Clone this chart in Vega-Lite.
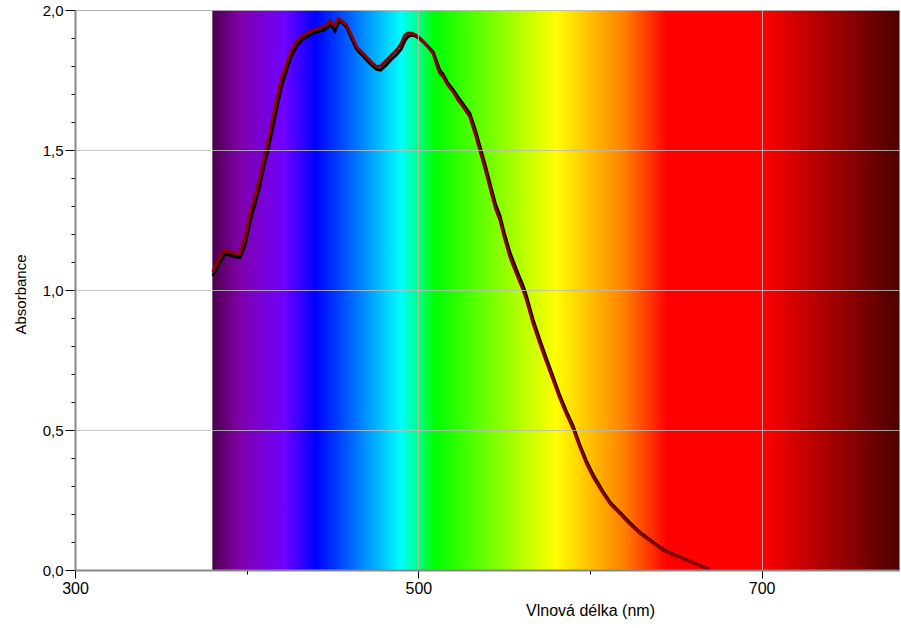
{
  "$schema": "https://vega.github.io/schema/vega-lite/v6.json",
  "width": 824,
  "height": 560,
  "autosize": {"type": "none"},
  "padding": {"left": 75, "top": 10, "right": 2, "bottom": 58},
  "background": "white",
  "config": {
    "view": {"stroke": "#888888", "strokeWidth": 1},
    "font": "Liberation Sans"
  },
  "datasets": {
    "band": [{"name": "viditelné spektrum", "from": 380, "to": 780}],
    "spectra": [
      {"serie": "Měření 1", "nm": 380.3, "abs": 1.050},
      {"serie": "Měření 1", "nm": 383, "abs": 1.085},
      {"serie": "Měření 1", "nm": 387.3, "abs": 1.128},
      {"serie": "Měření 1", "nm": 390.2, "abs": 1.125},
      {"serie": "Měření 1", "nm": 394, "abs": 1.118},
      {"serie": "Měření 1", "nm": 396, "abs": 1.115},
      {"serie": "Měření 1", "nm": 399, "abs": 1.16},
      {"serie": "Měření 1", "nm": 401.9, "abs": 1.245},
      {"serie": "Měření 1", "nm": 405, "abs": 1.31},
      {"serie": "Měření 1", "nm": 407.7, "abs": 1.375},
      {"serie": "Měření 1", "nm": 410, "abs": 1.44},
      {"serie": "Měření 1", "nm": 412.5, "abs": 1.505},
      {"serie": "Měření 1", "nm": 415, "abs": 1.575},
      {"serie": "Měření 1", "nm": 417.4, "abs": 1.645},
      {"serie": "Měření 1", "nm": 420, "abs": 1.72},
      {"serie": "Měření 1", "nm": 423.2, "abs": 1.785},
      {"serie": "Měření 1", "nm": 426, "abs": 1.835},
      {"serie": "Měření 1", "nm": 429, "abs": 1.87},
      {"serie": "Měření 1", "nm": 432, "abs": 1.893},
      {"serie": "Měření 1", "nm": 436.8, "abs": 1.912},
      {"serie": "Měření 1", "nm": 440, "abs": 1.92},
      {"serie": "Měření 1", "nm": 444.6, "abs": 1.928},
      {"serie": "Měření 1", "nm": 446.5, "abs": 1.935},
      {"serie": "Měření 1", "nm": 448.5, "abs": 1.945},
      {"serie": "Měření 1", "nm": 450, "abs": 1.94},
      {"serie": "Měření 1", "nm": 451.4, "abs": 1.925},
      {"serie": "Měření 1", "nm": 453.3, "abs": 1.955},
      {"serie": "Měření 1", "nm": 455.5, "abs": 1.955},
      {"serie": "Měření 1", "nm": 458.2, "abs": 1.94},
      {"serie": "Měření 1", "nm": 461, "abs": 1.90},
      {"serie": "Měření 1", "nm": 464, "abs": 1.86},
      {"serie": "Měření 1", "nm": 467, "abs": 1.84},
      {"serie": "Měření 1", "nm": 469.8, "abs": 1.822},
      {"serie": "Měření 1", "nm": 472.5, "abs": 1.805},
      {"serie": "Měření 1", "nm": 475.7, "abs": 1.788},
      {"serie": "Měření 1", "nm": 478, "abs": 1.785},
      {"serie": "Měření 1", "nm": 481.5, "abs": 1.805},
      {"serie": "Měření 1", "nm": 484.5, "abs": 1.825},
      {"serie": "Měření 1", "nm": 487.3, "abs": 1.84},
      {"serie": "Měření 1", "nm": 490, "abs": 1.86},
      {"serie": "Měření 1", "nm": 492.1, "abs": 1.89},
      {"serie": "Měření 1", "nm": 494, "abs": 1.905},
      {"serie": "Měření 1", "nm": 496, "abs": 1.91},
      {"serie": "Měření 1", "nm": 498, "abs": 1.908},
      {"serie": "Měření 1", "nm": 500.9, "abs": 1.897},
      {"serie": "Měření 1", "nm": 503, "abs": 1.885},
      {"serie": "Měření 1", "nm": 506, "abs": 1.868},
      {"serie": "Měření 1", "nm": 508.6, "abs": 1.85},
      {"serie": "Měření 1", "nm": 511, "abs": 1.81},
      {"serie": "Měření 1", "nm": 512.5, "abs": 1.785},
      {"serie": "Měření 1", "nm": 514.4, "abs": 1.77},
      {"serie": "Měření 1", "nm": 517, "abs": 1.74},
      {"serie": "Měření 1", "nm": 520.3, "abs": 1.715},
      {"serie": "Měření 1", "nm": 523, "abs": 1.69},
      {"serie": "Měření 1", "nm": 526, "abs": 1.665},
      {"serie": "Měření 1", "nm": 530, "abs": 1.63},
      {"serie": "Měření 1", "nm": 533, "abs": 1.575},
      {"serie": "Měření 1", "nm": 535.8, "abs": 1.515},
      {"serie": "Měření 1", "nm": 539, "abs": 1.445},
      {"serie": "Měření 1", "nm": 542.6, "abs": 1.36},
      {"serie": "Měření 1", "nm": 545, "abs": 1.305},
      {"serie": "Měření 1", "nm": 547.5, "abs": 1.265},
      {"serie": "Měření 1", "nm": 550, "abs": 1.205},
      {"serie": "Měření 1", "nm": 553.3, "abs": 1.135},
      {"serie": "Měření 1", "nm": 557, "abs": 1.075},
      {"serie": "Měření 1", "nm": 561, "abs": 1.015},
      {"serie": "Měření 1", "nm": 563, "abs": 0.978},
      {"serie": "Měření 1", "nm": 566.8, "abs": 0.895},
      {"serie": "Měření 1", "nm": 570.7, "abs": 0.823},
      {"serie": "Měření 1", "nm": 574.5, "abs": 0.757},
      {"serie": "Měření 1", "nm": 578.5, "abs": 0.69},
      {"serie": "Měření 1", "nm": 582, "abs": 0.63},
      {"serie": "Měření 1", "nm": 586, "abs": 0.57},
      {"serie": "Měření 1", "nm": 590.1, "abs": 0.515},
      {"serie": "Měření 1", "nm": 594, "abs": 0.448},
      {"serie": "Měření 1", "nm": 597.9, "abs": 0.39},
      {"serie": "Měření 1", "nm": 602, "abs": 0.338},
      {"serie": "Měření 1", "nm": 607.6, "abs": 0.28},
      {"serie": "Měření 1", "nm": 612, "abs": 0.24},
      {"serie": "Měření 1", "nm": 617.3, "abs": 0.207},
      {"serie": "Měření 1", "nm": 623, "abs": 0.17},
      {"serie": "Měření 1", "nm": 629, "abs": 0.135},
      {"serie": "Měření 1", "nm": 636, "abs": 0.103},
      {"serie": "Měření 1", "nm": 642.5, "abs": 0.074},
      {"serie": "Měření 1", "nm": 649, "abs": 0.054},
      {"serie": "Měření 1", "nm": 656.1, "abs": 0.037},
      {"serie": "Měření 1", "nm": 662, "abs": 0.021},
      {"serie": "Měření 1", "nm": 667.8, "abs": 0.007},
      {"serie": "Měření 1", "nm": 670, "abs": 0.0},
      {"serie": "Měření 2", "nm": 380.3, "abs": 1.064},
      {"serie": "Měření 2", "nm": 383, "abs": 1.10},
      {"serie": "Měření 2", "nm": 387.3, "abs": 1.143},
      {"serie": "Měření 2", "nm": 390.2, "abs": 1.136},
      {"serie": "Měření 2", "nm": 394, "abs": 1.128},
      {"serie": "Měření 2", "nm": 396, "abs": 1.128},
      {"serie": "Měření 2", "nm": 399, "abs": 1.19},
      {"serie": "Měření 2", "nm": 401.9, "abs": 1.275},
      {"serie": "Měření 2", "nm": 405, "abs": 1.34},
      {"serie": "Měření 2", "nm": 407.7, "abs": 1.404},
      {"serie": "Měření 2", "nm": 410, "abs": 1.47},
      {"serie": "Měření 2", "nm": 412.5, "abs": 1.536},
      {"serie": "Měření 2", "nm": 415, "abs": 1.61},
      {"serie": "Měření 2", "nm": 417.4, "abs": 1.679},
      {"serie": "Měření 2", "nm": 420, "abs": 1.75},
      {"serie": "Měření 2", "nm": 423.2, "abs": 1.81},
      {"serie": "Měření 2", "nm": 426, "abs": 1.855},
      {"serie": "Měření 2", "nm": 429, "abs": 1.887},
      {"serie": "Měření 2", "nm": 432, "abs": 1.905},
      {"serie": "Měření 2", "nm": 436.8, "abs": 1.923},
      {"serie": "Měření 2", "nm": 440, "abs": 1.93},
      {"serie": "Měření 2", "nm": 444.6, "abs": 1.94},
      {"serie": "Měření 2", "nm": 446.5, "abs": 1.945},
      {"serie": "Měření 2", "nm": 448.5, "abs": 1.962},
      {"serie": "Měření 2", "nm": 450, "abs": 1.95},
      {"serie": "Měření 2", "nm": 451.4, "abs": 1.943},
      {"serie": "Měření 2", "nm": 453.3, "abs": 1.97},
      {"serie": "Měření 2", "nm": 455.5, "abs": 1.96},
      {"serie": "Měření 2", "nm": 458.2, "abs": 1.946},
      {"serie": "Měření 2", "nm": 461, "abs": 1.91},
      {"serie": "Měření 2", "nm": 464, "abs": 1.869},
      {"serie": "Měření 2", "nm": 467, "abs": 1.85},
      {"serie": "Měření 2", "nm": 469.8, "abs": 1.833},
      {"serie": "Měření 2", "nm": 472.5, "abs": 1.815},
      {"serie": "Měření 2", "nm": 475.7, "abs": 1.798},
      {"serie": "Měření 2", "nm": 478, "abs": 1.80},
      {"serie": "Měření 2", "nm": 481.5, "abs": 1.821},
      {"serie": "Měření 2", "nm": 484.5, "abs": 1.84},
      {"serie": "Měření 2", "nm": 487.3, "abs": 1.857},
      {"serie": "Měření 2", "nm": 490, "abs": 1.88},
      {"serie": "Měření 2", "nm": 492.1, "abs": 1.911},
      {"serie": "Měření 2", "nm": 494, "abs": 1.918},
      {"serie": "Měření 2", "nm": 496, "abs": 1.917},
      {"serie": "Měření 2", "nm": 498, "abs": 1.912},
      {"serie": "Měření 2", "nm": 500.9, "abs": 1.899},
      {"serie": "Měření 2", "nm": 503, "abs": 1.887},
      {"serie": "Měření 2", "nm": 506, "abs": 1.865},
      {"serie": "Měření 2", "nm": 508.6, "abs": 1.845},
      {"serie": "Měření 2", "nm": 511, "abs": 1.80},
      {"serie": "Měření 2", "nm": 512.5, "abs": 1.774},
      {"serie": "Měření 2", "nm": 514.4, "abs": 1.762},
      {"serie": "Měření 2", "nm": 517, "abs": 1.733},
      {"serie": "Měření 2", "nm": 520.3, "abs": 1.708},
      {"serie": "Měření 2", "nm": 523, "abs": 1.68},
      {"serie": "Měření 2", "nm": 526, "abs": 1.655},
      {"serie": "Měření 2", "nm": 530, "abs": 1.619},
      {"serie": "Měření 2", "nm": 533, "abs": 1.56},
      {"serie": "Měření 2", "nm": 535.8, "abs": 1.50},
      {"serie": "Měření 2", "nm": 539, "abs": 1.43},
      {"serie": "Měření 2", "nm": 542.6, "abs": 1.345},
      {"serie": "Měření 2", "nm": 545, "abs": 1.29},
      {"serie": "Měření 2", "nm": 547.5, "abs": 1.25},
      {"serie": "Měření 2", "nm": 550, "abs": 1.19},
      {"serie": "Měření 2", "nm": 553.3, "abs": 1.119},
      {"serie": "Měření 2", "nm": 557, "abs": 1.06},
      {"serie": "Měření 2", "nm": 561, "abs": 1.00},
      {"serie": "Měření 2", "nm": 563, "abs": 0.964},
      {"serie": "Měření 2", "nm": 566.8, "abs": 0.881},
      {"serie": "Měření 2", "nm": 570.7, "abs": 0.81},
      {"serie": "Měření 2", "nm": 574.5, "abs": 0.745},
      {"serie": "Měření 2", "nm": 578.5, "abs": 0.679},
      {"serie": "Měření 2", "nm": 582, "abs": 0.62},
      {"serie": "Měření 2", "nm": 586, "abs": 0.56},
      {"serie": "Měření 2", "nm": 590.1, "abs": 0.506},
      {"serie": "Měření 2", "nm": 594, "abs": 0.44},
      {"serie": "Měření 2", "nm": 597.9, "abs": 0.381},
      {"serie": "Měření 2", "nm": 602, "abs": 0.33},
      {"serie": "Měření 2", "nm": 607.6, "abs": 0.274},
      {"serie": "Měření 2", "nm": 612, "abs": 0.235},
      {"serie": "Měření 2", "nm": 617.3, "abs": 0.202},
      {"serie": "Měření 2", "nm": 623, "abs": 0.165},
      {"serie": "Měření 2", "nm": 629, "abs": 0.131},
      {"serie": "Měření 2", "nm": 636, "abs": 0.10},
      {"serie": "Měření 2", "nm": 642.5, "abs": 0.071},
      {"serie": "Měření 2", "nm": 649, "abs": 0.052},
      {"serie": "Měření 2", "nm": 656.1, "abs": 0.036},
      {"serie": "Měření 2", "nm": 662, "abs": 0.02},
      {"serie": "Měření 2", "nm": 667.8, "abs": 0.006},
      {"serie": "Měření 2", "nm": 670, "abs": 0.0}
    ]
  },
  "encoding": {
    "x": {
      "type": "quantitative",
      "scale": {"domain": [300, 780], "nice": false, "zero": false},
      "axis": {
        "zindex": 1,
        "title": "Vlnová délka (nm)",
        "titleFont": "Liberation Sans",
        "titleFontSize": 16,
        "titleFontWeight": "normal",
        "titleColor": "#000000",
        "titleX": 515,
        "titleY": 45,
        "titleAlign": "center",
        "titleBaseline": "alphabetic",
        "values": [300, 400, 500, 600, 700],
        "labelExpr": "datum.value % 200 === 100 ? datum.label : ''",
        "labelFont": "Liberation Sans",
        "labelFontSize": 16,
        "labelColor": "#000000",
        "labelPadding": 2,
        "labelFlush": false,
        "labelOverlap": false,
        "tickColor": "#000000",
        "tickSize": {"condition": {"test": "datum.value % 200 === 100", "value": 8}, "value": 4},
        "domainColor": "#888888",
        "domainWidth": 2,
        "grid": true,
        "gridColor": "#bbbbbb",
        "gridOpacity": {"condition": {"test": "datum.value % 200 === 100", "value": 0.85}, "value": 0}
      }
    },
    "y": {
      "type": "quantitative",
      "scale": {"domain": [0, 2], "nice": false},
      "axis": {
        "zindex": 1,
        "title": "Absorbance",
        "titleFont": "Liberation Sans",
        "titleFontSize": 15,
        "titleFontWeight": "normal",
        "titleColor": "#000000",
        "titleAngle": -90,
        "titleX": -50,
        "titleY": 284,
        "titleAlign": "center",
        "titleBaseline": "alphabetic",
        "values": [0, 0.1, 0.2, 0.3, 0.4, 0.5, 0.6, 0.7, 0.8, 0.9, 1, 1.1, 1.2, 1.3, 1.4, 1.5, 1.6, 1.7, 1.8, 1.9, 2],
        "labelExpr": "round(datum.value * 10) % 5 === 0 ? replace(format(datum.value, '.1f'), '.', ',') : ''",
        "labelFont": "Liberation Sans",
        "labelFontSize": 15,
        "labelColor": "#000000",
        "labelPadding": 2,
        "labelFlush": false,
        "labelOverlap": false,
        "tickColor": "#000000",
        "tickSize": {"condition": {"test": "round(datum.value * 10) % 5 === 0", "value": 10}, "value": 4},
        "domainColor": "#888888",
        "domainWidth": 2,
        "grid": true,
        "gridColor": "#bbbbbb",
        "gridOpacity": {"condition": {"test": "round(datum.value * 10) % 5 === 0", "value": 0.85}, "value": 0}
      }
    }
  },
  "layer": [
    {
      "data": {"name": "band"},
      "mark": {
        "type": "rect",
        "fill": {
          "gradient": "linear",
          "x1": 0, "y1": 0, "x2": 1, "y2": 0,
          "stops": [
            {"offset": 0.0, "color": "#4c004c"},
            {"offset": 0.04, "color": "#8000aa"},
            {"offset": 0.105, "color": "#7000ff"},
            {"offset": 0.15, "color": "#0000ff"},
            {"offset": 0.2, "color": "#0060ff"},
            {"offset": 0.275, "color": "#00ffff"},
            {"offset": 0.3, "color": "#00ff80"},
            {"offset": 0.325, "color": "#00ff00"},
            {"offset": 0.5, "color": "#ffff00"},
            {"offset": 0.6, "color": "#ff8000"},
            {"offset": 0.6625, "color": "#ff0000"},
            {"offset": 0.8, "color": "#ff0000"},
            {"offset": 1.0, "color": "#4c0000"}
          ]
        }
      },
      "encoding": {
        "x": {"field": "from", "type": "quantitative"},
        "x2": {"field": "to"},
        "y": {"datum": 0},
        "y2": {"datum": 2}
      }
    },
    {
      "data": {"name": "spectra"},
      "transform": [{"filter": "datum.serie === 'Měření 1'"}],
      "mark": {"type": "line", "color": "#000000", "strokeWidth": 3},
      "encoding": {
        "x": {"field": "nm", "type": "quantitative"},
        "y": {"field": "abs", "type": "quantitative"}
      }
    },
    {
      "data": {"name": "spectra"},
      "transform": [{"filter": "datum.serie === 'Měření 2'"}],
      "mark": {"type": "line", "color": "#8b0000", "strokeWidth": 3},
      "encoding": {
        "x": {"field": "nm", "type": "quantitative"},
        "y": {"field": "abs", "type": "quantitative"}
      }
    }
  ]
}
